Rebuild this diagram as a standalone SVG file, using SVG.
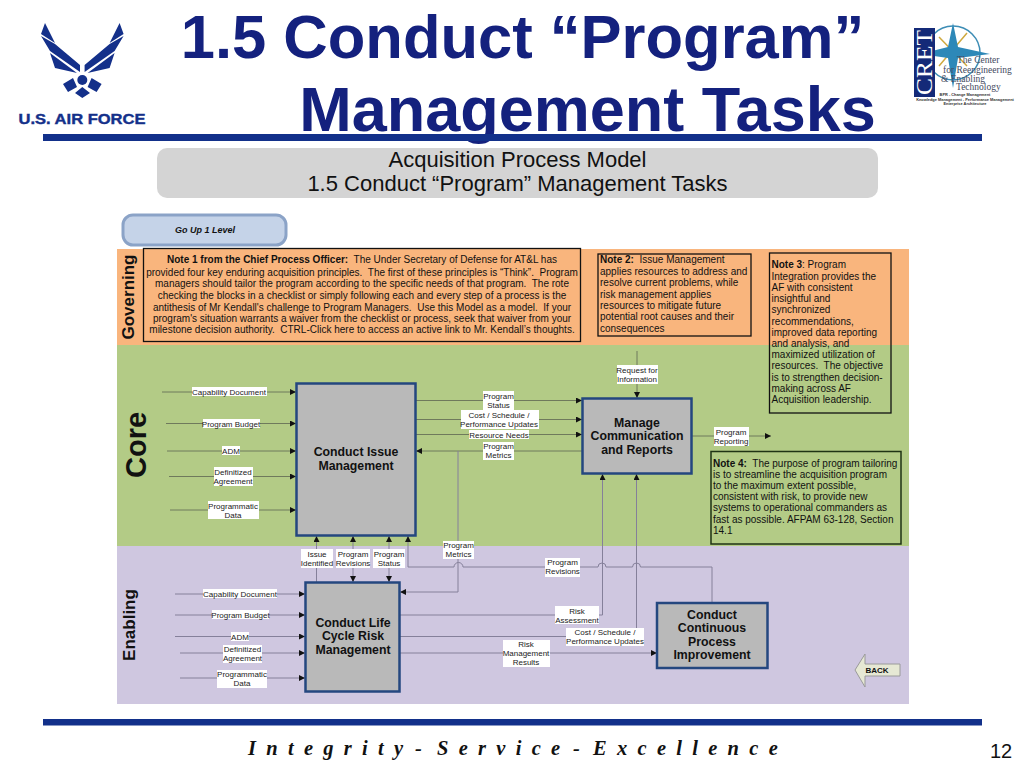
<svg xmlns="http://www.w3.org/2000/svg" width="1024" height="768" viewBox="0 0 1024 768">
<style>
text{font-family:"Liberation Sans",Arial,sans-serif;white-space:pre}
.t{font-weight:bold;fill:#14217e;text-anchor:middle}
.s{font-size:22px;fill:#111;text-anchor:middle}
.n{font-size:10px;fill:#111}
.c{text-anchor:middle}
.l{font-size:8px;fill:#222;text-anchor:middle}
.b{font-size:12.3px;font-weight:bold;fill:#111;text-anchor:middle}
.band{font-weight:bold;fill:#111;text-anchor:middle}
.box{fill:#b9b9b9;stroke:#24477f;stroke-width:2.5}
.note{fill:none;stroke:#111;stroke-width:1.3}
.w{fill:#fff}
.ln{fill:none;stroke:#6f7a5c;stroke-width:1}
.lp{fill:none;stroke:#85809a;stroke-width:1}
.serif{font-family:"Liberation Serif","Times New Roman",serif}
</style>
<defs>
<marker id="a" markerUnits="userSpaceOnUse" markerWidth="7" markerHeight="7" refX="6" refY="3" orient="auto"><path d="M0 0L6 3L0 6Z" fill="#111"/></marker>
</defs>
<rect width="1024" height="768" fill="#fff"/>
<g id="logo-af">
<path fill="#14308a" d="M45 23L55 43L41 34Z M41 36L55 44L80 65L80 72L50 51Z M50 53L77 73L55 68Z M119.600 23L109.600 43L123.600 34Z M123.600 36L109.600 44L84.600 65L84.600 72L114.600 51Z M114.600 53L87.600 73L109.600 68Z M63 84L73 78L77 87L68 92Z M101.600 84L91.600 78L87.600 87L96.600 92Z M82.300 87L90 93L82.300 98L75 93Z"/>
<circle cx="82.300" cy="80" r="5" fill="#14308a"/>
<text x="82" y="124" font-size="15" font-weight="bold" fill="#14308a" stroke="#14308a" stroke-width=".4" text-anchor="middle" textLength="127" lengthAdjust="spacingAndGlyphs">U.S. AIR FORCE</text>
</g>
<g id="title">
<text class="t" font-size="61.500" x="522.500" y="58">1.5 Conduct “Program”</text>
<text class="t" font-size="63" x="587.500" y="131">Management Tasks</text>
</g>
<rect id="top-bar" x="43" y="134" width="939" height="7" fill="#12308a"/>
<g id="logo-cret">
<circle cx="953" cy="53" r="27" fill="none" stroke="#3d8db5" stroke-width="1.500"/>
<path d="M939 37L967 66M967 33L939 66" stroke="#cfa93f" stroke-width="1.500"/>
<path d="M953 23L958 47L990 54L958 58L953 88L948 58L920 54L948 47Z" fill="#2d88b8"/>
<rect x="914" y="28" width="21" height="69" fill="#142a78"/>
<text class="serif" transform="translate(932 95) rotate(-90)" font-size="23" fill="#fff" textLength="65" lengthAdjust="spacingAndGlyphs">CRET</text>
<g fill="#444a60" font-size="9.500">
<text class="serif" x="957" y="63">The Center</text>
<text class="serif" x="943" y="73">for Reengineering</text>
<text class="serif" x="941" y="82">&amp; Enabling</text>
<text class="serif" x="956" y="90">Technology</text>
</g>
<g font-size="3.900" font-weight="bold" fill="#333" text-anchor="middle">
<text x="965" y="96">BPR - Change Management</text>
<text x="965" y="100.500">Knowledge Management - Performance Management</text>
<text x="965" y="105">Enterprise Architecture</text>
</g>
</g>
<g id="subtitle">
<rect x="157" y="148" width="721" height="50" rx="10" fill="#d4d4d4"/>
<text class="s" x="517.500" y="167">Acquisition Process Model</text>
<text class="s" x="517.500" y="191">1.5 Conduct “Program” Management Tasks</text>
</g>
<g id="go-up">
<rect x="123" y="215" width="163" height="30" rx="10" fill="#c5d3e8" stroke="#8ba3c7" stroke-width="3"/>
<text x="205" y="233" font-size="9" font-weight="bold" font-style="italic" fill="#111" text-anchor="middle">Go Up 1 Level</text>
</g>
<g id="bands">
<rect x="117" y="249" width="792" height="96" fill="#f9b57d"/>
<rect x="117" y="345" width="792" height="201" fill="#b3cb86"/>
<rect x="117" y="546" width="792" height="158" fill="#cfc7e0"/>
<text class="band" font-size="17" transform="translate(134 297) rotate(-90)">Governing</text>
<text class="band" font-size="29" transform="translate(146 445) rotate(-90)">Core</text>
<text class="band" font-size="17" transform="translate(135 625) rotate(-90)">Enabling</text>
</g>
<g id="connectors">
<g class="ln">
<path marker-end="url(#a)" d="M162 392H296"/>
<path marker-end="url(#a)" d="M166 423.500H296"/>
<path marker-end="url(#a)" d="M167 451H296"/>
<path marker-end="url(#a)" d="M169 476.500H296"/>
<path marker-end="url(#a)" d="M170 510H296"/>
<path marker-end="url(#a)" d="M416 400.500H582"/>
<path marker-end="url(#a)" d="M416 419.500H582"/>
<path marker-end="url(#a)" d="M416 434.500H582"/>
<path marker-end="url(#a)" d="M582 451H416"/>
<path marker-end="url(#a)" d="M637 351V398"/>
<path marker-end="url(#a)" d="M692 436H771"/>
</g>
<g class="lp">
<path marker-end="url(#a)" d="M175 594H305"/>
<path marker-end="url(#a)" d="M175 615H305"/>
<path marker-end="url(#a)" d="M175 636.500H305"/>
<path marker-end="url(#a)" d="M180 653H305"/>
<path marker-end="url(#a)" d="M180 678H305"/>
<path marker-end="url(#a)" d="M316.500 582V536"/>
<path marker-end="url(#a)" d="M353 558V536"/>
<path marker-end="url(#a)" d="M353 566V582"/>
<path marker-end="url(#a)" d="M389 558V536"/>
<path marker-end="url(#a)" d="M389 566V582"/>
<path marker-end="url(#a)" d="M458 451V592H400"/>
<path marker-end="url(#a)" d="M712 603V567H640.500A4 4 0 0 0 632.500 567H606A4 4 0 0 0 598 567H463A4.500 4.500 0 0 0 454 567H408V536"/>
<path marker-end="url(#a)" d="M400 615H602.500V474"/>
<path marker-end="url(#a)" d="M400 636.500H636.500V474"/>
<path marker-end="url(#a)" d="M400 653H657"/>
</g>
</g>
<g id="labels">
<rect class="w" x="192" y="387" width="75" height="9"/><text class="l" x="229" y="395">Capability Document</text>
<rect class="w" x="203" y="419" width="57" height="9"/><text class="l" x="231" y="426.500">Program Budget</text>
<rect class="w" x="222" y="446" width="18" height="9"/><text class="l" x="231" y="454">ADM</text>
<rect class="w" x="214" y="467" width="39" height="19"/><text class="l" x="233" y="474.500">Definitized</text><text class="l" x="233" y="484">Agreement</text>
<rect class="w" x="208" y="501" width="51" height="18"/><text class="l" x="233" y="508.500">Programmatic</text><text class="l" x="233" y="517.500">Data</text>
<rect class="w" x="483" y="391" width="31" height="19"/><text class="l" x="498.500" y="398.500">Program</text><text class="l" x="498.500" y="407.500">Status</text>
<rect class="w" x="461" y="410" width="78" height="19"/><text class="l" x="499" y="417.500">Cost / Schedule /</text><text class="l" x="499" y="426.500">Performance Updates</text>
<rect class="w" x="469" y="430" width="60" height="9"/><text class="l" x="499" y="437.500">Resource Needs</text>
<rect class="w" x="483" y="442" width="31" height="18"/><text class="l" x="498.500" y="449">Program</text><text class="l" x="498.500" y="458">Metrics</text>
<rect class="w" x="617" y="365" width="41" height="19"/><text class="l" x="637" y="372.500">Request for</text><text class="l" x="637" y="381.500">Information</text>
<rect class="w" x="714" y="427" width="35" height="19"/><text class="l" x="731" y="434.500">Program</text><text class="l" x="731" y="443.500">Reporting</text>
<rect class="w" x="443" y="541" width="31" height="18"/><text class="l" x="458.500" y="548">Program</text><text class="l" x="458.500" y="557">Metrics</text>
<rect class="w" x="545" y="558" width="35" height="19"/><text class="l" x="562.500" y="565">Program</text><text class="l" x="562.500" y="574">Revisions</text>
<rect class="w" x="301" y="549" width="32" height="19"/><text class="l" x="317" y="557">Issue</text><text class="l" x="317" y="566">Identified</text>
<rect class="w" x="336" y="549" width="34" height="19"/><text class="l" x="353" y="557">Program</text><text class="l" x="353" y="566">Revisions</text>
<rect class="w" x="373" y="549" width="32" height="19"/><text class="l" x="389" y="557">Program</text><text class="l" x="389" y="566">Status</text>
<rect class="w" x="203" y="589" width="74" height="9"/><text class="l" x="240" y="597">Capability Document</text>
<rect class="w" x="212" y="610" width="57" height="9"/><text class="l" x="240.500" y="618">Program Budget</text>
<rect class="w" x="231" y="632" width="18" height="9"/><text class="l" x="240" y="639.500">ADM</text>
<rect class="w" x="223" y="645" width="39" height="18"/><text class="l" x="242.500" y="651.500">Definitized</text><text class="l" x="242.500" y="660.500">Agreement</text>
<rect class="w" x="217" y="670" width="50" height="18"/><text class="l" x="242" y="677">Programmatic</text><text class="l" x="242" y="686">Data</text>
<rect class="w" x="555" y="606" width="44" height="18"/><text class="l" x="577" y="613.500">Risk</text><text class="l" x="577" y="622.500">Assessment</text>
<rect class="w" x="566" y="628" width="78" height="18"/><text class="l" x="605" y="634.500">Cost / Schedule /</text><text class="l" x="605" y="643.500">Performance Updates</text>
<rect class="w" x="503" y="640" width="47" height="27"/><text class="l" x="526" y="647">Risk</text><text class="l" x="526" y="656">Management</text><text class="l" x="526" y="665">Results</text>
</g>
<g id="node-issue">
<rect class="box" x="296.500" y="383.500" width="119" height="152"/>
<text class="b" x="356" y="456">Conduct Issue</text>
<text class="b" x="356" y="470">Management</text>
</g>
<g id="node-manage">
<rect class="box" x="582.500" y="398.500" width="109" height="75"/>
<text class="b" x="637" y="427">Manage</text>
<text class="b" x="637" y="440">Communication</text>
<text class="b" x="637" y="454">and Reports</text>
</g>
<g id="node-risk">
<rect class="box" x="305.500" y="582.500" width="94" height="109"/>
<text class="b" x="353" y="627">Conduct Life</text>
<text class="b" x="353" y="640">Cycle Risk</text>
<text class="b" x="353" y="654">Management</text>
</g>
<g id="node-cpi">
<rect class="box" x="657" y="603" width="110.500" height="65"/>
<text class="b" x="712" y="619">Conduct</text>
<text class="b" x="712" y="632">Continuous</text>
<text class="b" x="712" y="646">Process</text>
<text class="b" x="712" y="659">Improvement</text>
</g>
<g id="note-1">
<rect class="note" x="143.500" y="248.500" width="437" height="93"/>
<g class="n c">
<text x="362" y="263"><tspan font-weight="bold">Note 1 from the Chief Process Officer:</tspan>  The Under Secretary of Defense for AT&amp;L has</text>
<text x="362" y="276">provided four key enduring acquisition principles.  The first of these principles is “Think”.  Program</text>
<text x="362" y="287">managers should tailor the program according to the specific needs of that program.  The rote</text>
<text x="362" y="299">checking the blocks in a checklist or simply following each and every step of a process is the</text>
<text x="362" y="311">antithesis of Mr Kendall's challenge to Program Managers.  Use this Model as a model.  If your</text>
<text x="362" y="322">program's situation warrants a waiver from the checklist or process, seek that waiver from your</text>
<text x="362" y="333">milestone decision authority.  CTRL-Click here to access an active link to Mr. Kendall’s thoughts.</text>
</g>
</g>
<g id="note-2">
<rect class="note" x="598" y="254" width="153" height="82"/>
<g class="n">
<text x="600" y="263"><tspan font-weight="bold">Note 2:</tspan>  Issue Management</text>
<text x="600" y="275">applies resources to address and</text>
<text x="600" y="286">resolve current problems, while</text>
<text x="600" y="298">risk management applies</text>
<text x="600" y="309">resources to mitigate future</text>
<text x="600" y="320">potential root causes and their</text>
<text x="600" y="332">consequences</text>
</g>
</g>
<g id="note-3">
<rect class="note" x="769.500" y="253" width="121.500" height="160"/>
<g class="n">
<text x="771.500" y="268"><tspan font-weight="bold">Note 3</tspan>: Program</text>
<text x="771.500" y="280">Integration provides the</text>
<text x="771.500" y="291">AF with consistent</text>
<text x="771.500" y="302">insightful and</text>
<text x="771.500" y="313">synchronized</text>
<text x="771.500" y="325">recommendations,</text>
<text x="771.500" y="336">improved data reporting</text>
<text x="771.500" y="347">and analysis, and</text>
<text x="771.500" y="358">maximized utilization of</text>
<text x="771.500" y="369">resources.  The objective</text>
<text x="771.500" y="381">is to strengthen decision-</text>
<text x="771.500" y="392">making across AF</text>
<text x="771.500" y="403">Acquisition leadership.</text>
</g>
</g>
<g id="note-4">
<rect x="711" y="451.500" width="190" height="92.500" fill="#b3cb86" stroke="#1f3314" stroke-width="1.500"/>
<g class="n">
<text x="713" y="467"><tspan font-weight="bold">Note 4:</tspan>  The purpose of program tailoring</text>
<text x="713" y="478">is to streamline the acquisition program</text>
<text x="713" y="489">to the maximum extent possible,</text>
<text x="713" y="500">consistent with risk, to provide new</text>
<text x="713" y="511">systems to operational commanders as</text>
<text x="713" y="523">fast as possible. AFPAM 63-128, Section</text>
<text x="713" y="534">14.1</text>
</g>
</g>
<g id="back">
<path d="M855 670L865 654V664H900V676H865V687Z" fill="#e6e8d4" stroke="#9a9a9a"/>
<text x="877" y="673" font-size="8" font-weight="bold" fill="#111" text-anchor="middle">BACK</text>
</g>
<rect id="bottom-bar" x="43" y="719" width="939" height="6.500" fill="#12308a"/>
<text class="serif" y="755" font-size="20.500" font-weight="bold" font-style="italic" fill="#111" letter-spacing="2.580"><tspan x="248">I n t e g r i t y</tspan> <tspan x="415">-</tspan> <tspan x="437">S e r v i c e</tspan> <tspan x="573">-</tspan> <tspan x="593">E x c e l l e n c e</tspan></text>
<text x="1001" y="758" font-size="20" fill="#111" text-anchor="middle">12</text>
</svg>
